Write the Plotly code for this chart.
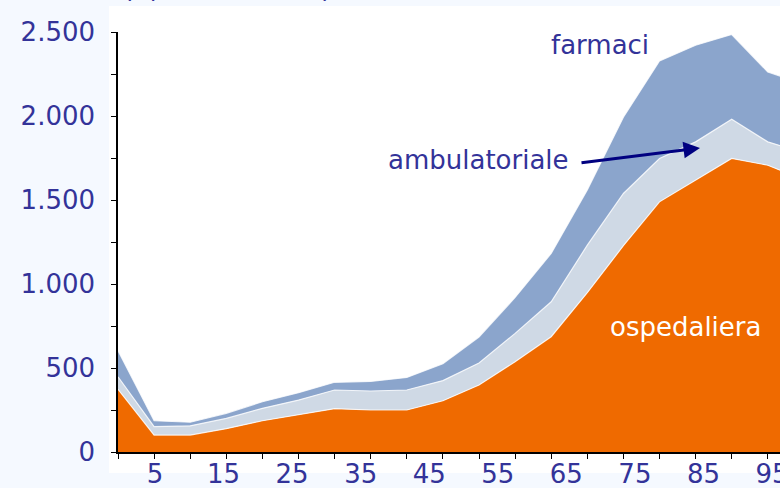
import plotly.graph_objects as go

# Age classes (years)
ages = [0, 5, 10, 15, 20, 25, 30, 35, 40, 45, 50, 55, 60, 65, 70, 75, 80, 85, 90, 95]
# per-capita spending (€) by component
ospedaliera = [373, 101, 101, 139, 186, 224, 258, 250, 250, 305, 399, 537, 686, 948, 1228, 1489, 1618, 1747, 1707, 1620]
ambulatoriale = [75, 50, 55, 61, 74, 85, 111, 113, 119, 120, 131, 169, 208, 283, 311, 258, 228, 234, 139, 160]
farmaci = [155, 35, 21, 30, 39, 44, 46, 57, 75, 100, 154, 214, 288, 329, 454, 581, 575, 504, 416, 410]
x_labels = [5, 15, 25, 35, 45, 55, 65, 75, 85, 95]

FONT = "DejaVu Sans"
TXT = "#333399"
W, H = 780, 488
L, R, T, B = 118, 0, 32, 36
pw, ph = W - L - R, H - T - B
px_per_year = 7.22
label_px_per_year = 6.856

fig = go.Figure()
for name, vals, col in [("ospedaliera", ospedaliera, "#EF6A00"),
                        ("ambulatoriale", ambulatoriale, "#CFD9E5"),
                        ("farmaci", farmaci, "#8BA5CC")]:
    fig.add_trace(go.Scatter(x=ages, y=vals, name=name, mode="lines",
                             stackgroup="one", fillcolor=col,
                             line=dict(color="rgba(255,255,255,0.8)", width=1.2),
                             hoverinfo="skip"))

# invisible trace to anchor the label axis
fig.add_trace(go.Scatter(x=[None], y=[None], xaxis="x2", yaxis="y", showlegend=False))

x_max = pw / px_per_year
x2_min = 5 - (155 - L) / label_px_per_year
x2_max = x2_min + pw / label_px_per_year

fig.update_layout(
    width=W, height=H,
    margin=dict(l=L, r=R, t=T, b=B, pad=0, autoexpand=False),
    paper_bgcolor="#F5F9FF",
    plot_bgcolor="white",
    showlegend=False,
    separators=",.",
    font=dict(family=FONT, size=26, color=TXT),
    xaxis=dict(range=[0, x_max], tickvals=ages, showticklabels=False,
               ticks="outside", ticklen=5, tickcolor="black", tickwidth=1,
               showline=True, linecolor="black", linewidth=1.5,
               showgrid=False, zeroline=False, automargin=False),
    xaxis2=dict(range=[x2_min, x2_max], overlaying="x", anchor="y", side="bottom",
                tickvals=x_labels, ticktext=[str(v) for v in x_labels],
                ticks="", showline=False, showgrid=False, zeroline=False,
                tickfont=dict(family=FONT, size=26, color=TXT),
                ticklabelstandoff=4, ticklabeloverflow="allow", automargin=False),
    yaxis=dict(range=[0, 2500], dtick=500, tickformat=",d",
               ticks="outside", ticklen=5, tickcolor="black",
               minor=dict(dtick=250, ticks="outside", ticklen=5, tickcolor="black"),
               showline=True, linecolor="black", linewidth=1.5,
               showgrid=False, zeroline=False, automargin=False,
               tickfont=dict(family=FONT, size=26, color=TXT),
               ticklabelstandoff=11),
    shapes=[dict(type="rect", xref="paper", yref="paper",
                 x0=(109 - L) / pw, x1=1.05, y0=-(473 - (H - B)) / ph, y1=(H - B - 6) / ph,
                 fillcolor="white", line=dict(width=0), layer="below")],
)

ann = [
    dict(text="farmaci", x=600, y=45),
    dict(text="ambulatoriale", x=478, y=160),
    dict(text="ospedaliera", x=685, y=327, color="white"),
    dict(text="(€) valori annui)", x=227, y=-12),
]
for a in ann:
    fig.add_annotation(text=a["text"], xref="paper", yref="paper",
                       x=(a["x"] - L) / pw, y=(H - B - a["y"]) / ph,
                       xanchor="center", yanchor="middle", showarrow=False,
                       font=dict(family=FONT, size=26, color=a.get("color", TXT)))

# arrow pointing into the ambulatoriale band
fig.add_annotation(x=(700 - L) / px_per_year, y=(H - B - 148) * 2500 / ph,
                   xref="x", yref="y", text="", showarrow=True,
                   ax=-120, ay=15, axref="pixel", ayref="pixel",
                   arrowhead=2, arrowsize=1.1, arrowwidth=3, arrowcolor="#000080")

fig.write_html("out.html", config={"displayModeBar": False},
               post_script="document.body.style.margin='0';document.body.style.overflow='hidden';")
